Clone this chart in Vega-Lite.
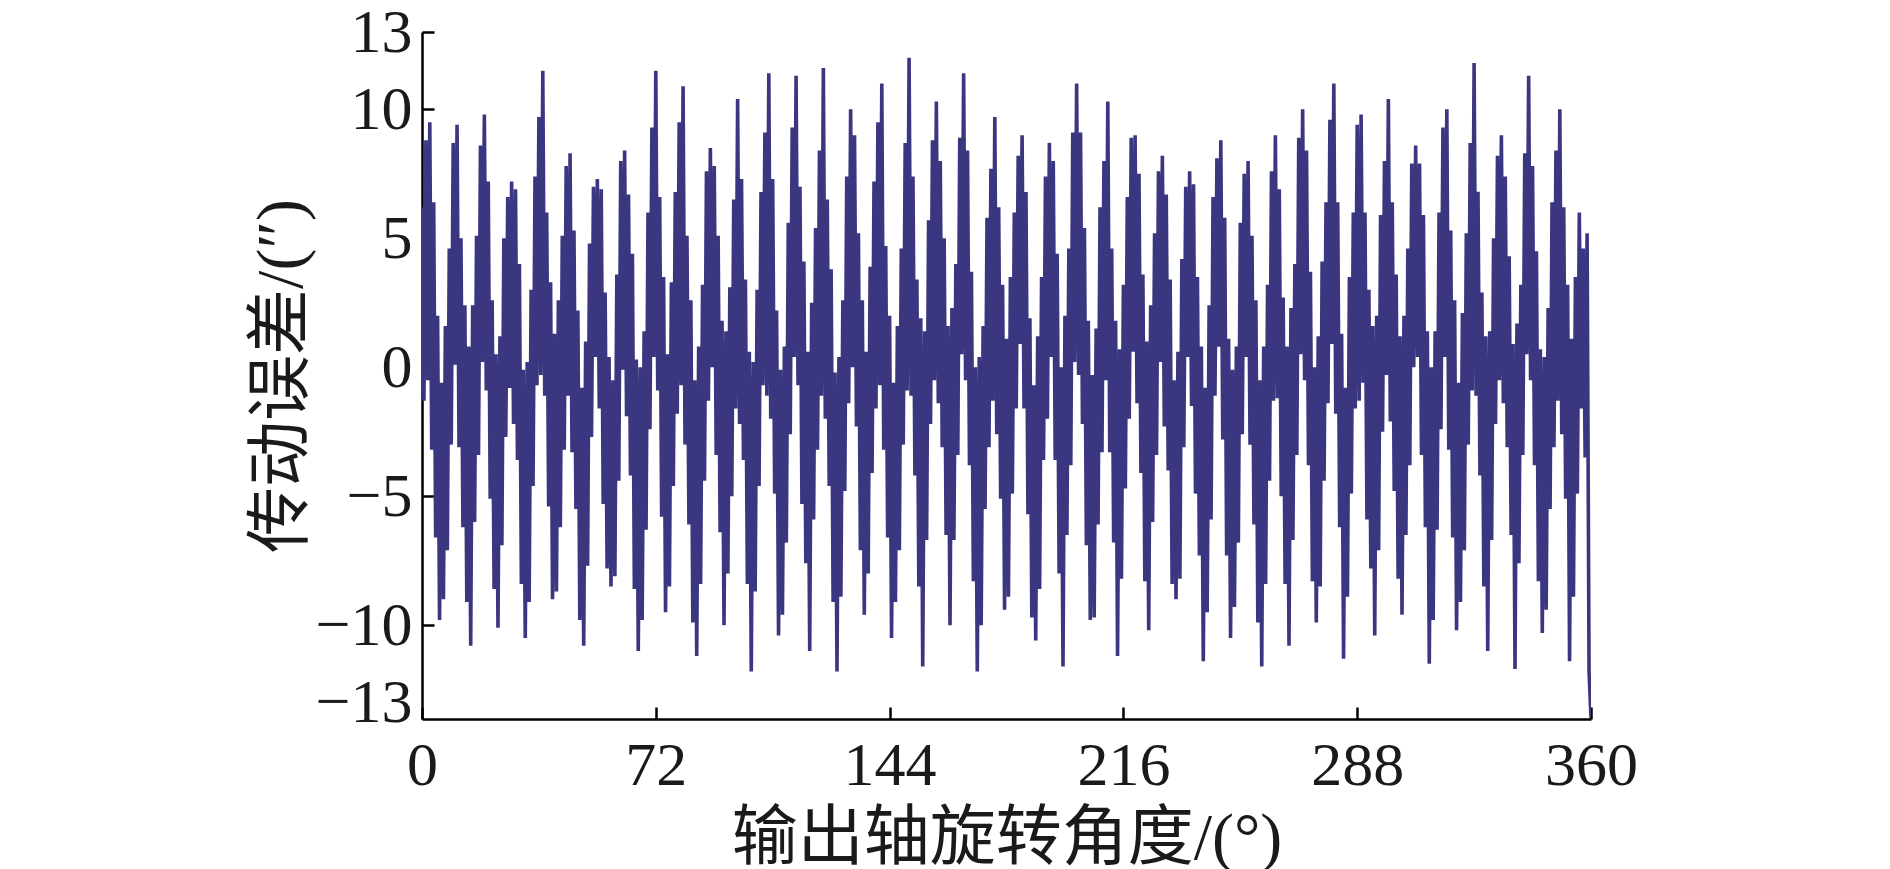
{
"$schema": "https://vega.github.io/schema/vega-lite/v6.json",
"autosize": "none",
"padding": {"left": 422, "top": 32, "right": 299, "bottom": 150},
"width": 1169,
"height": 687,
"background": "#ffffff",
"config": {
"view": {"stroke": null},
"axis": {"domainColor": "#000000", "domainWidth": 2.5, "tickColor": "#000000", "tickWidth": 2.5, "tickSize": -12, "grid": false, "labelFont": "Liberation Serif", "labelFontSize": 62, "labelColor": "#1a1a1a", "titleFont": "Liberation Serif, Noto Sans CJK SC", "titleFontSize": 66, "titleFontWeight": "normal", "titleColor": "#1a1a1a", "labelOverlap": false, "labelFlush": false}
},
"data": {"values": [
{"x":0,"y":6.2},{"x":0.6,"y":-1.3},{"x":1.2,"y":8.8},{"x":1.8,"y":-0.5},{"x":2.4,"y":9.5},{"x":3,"y":-3.2},{"x":3.6,"y":6.4},{"x":4.2,"y":-6.6},{"x":4.8,"y":2.0},{"x":5.4,"y":-9.8},
{"x":6,"y":-0.6},{"x":6.6,"y":-9.0},{"x":7.2,"y":1.6},{"x":7.8,"y":-7.1},{"x":8.4,"y":4.6},{"x":9,"y":-3.0},{"x":9.6,"y":8.7},{"x":10.2,"y":0.1},{"x":10.8,"y":9.4},{"x":11.4,"y":-3.1},
{"x":12,"y":5.0},{"x":12.6,"y":-6.2},{"x":13.2,"y":2.4},{"x":13.8,"y":-9.1},{"x":14.4,"y":0.8},{"x":15,"y":-10.8},{"x":15.6,"y":2.4},{"x":16.2,"y":-6.0},{"x":16.8,"y":5.1},{"x":17.4,"y":-3.4},
{"x":18,"y":8.6},{"x":18.6,"y":0.2},{"x":19.2,"y":9.8},{"x":19.8,"y":-0.9},{"x":20.4,"y":7.2},{"x":21,"y":-5.1},{"x":21.6,"y":2.6},{"x":22.2,"y":-8.6},{"x":22.8,"y":0.5},{"x":23.4,"y":-10.1},
{"x":24,"y":1.2},{"x":24.6,"y":-6.9},{"x":25.2,"y":5.0},{"x":25.8,"y":-2.7},{"x":26.4,"y":6.6},{"x":27,"y":-0.8},{"x":27.6,"y":7.2},{"x":28.2,"y":-2.2},{"x":28.8,"y":6.9},{"x":29.4,"y":-3.6},
{"x":30,"y":4.0},{"x":30.6,"y":-8.4},{"x":31.2,"y":-0.1},{"x":31.8,"y":-10.5},{"x":32.4,"y":0.2},{"x":33,"y":-9.1},{"x":33.6,"y":3.0},{"x":34.2,"y":-4.6},{"x":34.8,"y":7.4},{"x":35.4,"y":-0.7},
{"x":36,"y":9.7},{"x":36.6,"y":-0.3},{"x":37.2,"y":11.5},{"x":37.8,"y":-1.1},{"x":38.4,"y":6.0},{"x":39,"y":-5.4},{"x":39.6,"y":3.3},{"x":40.2,"y":-9.0},{"x":40.8,"y":1.3},{"x":41.4,"y":-8.7},
{"x":42,"y":2.6},{"x":42.6,"y":-6.2},{"x":43.2,"y":5.1},{"x":43.8,"y":-3.2},{"x":44.4,"y":7.8},{"x":45,"y":-1.1},{"x":45.6,"y":8.3},{"x":46.2,"y":-3.3},{"x":46.8,"y":5.3},{"x":47.4,"y":-5.5},
{"x":48,"y":2.2},{"x":48.6,"y":-9.8},{"x":49.2,"y":-0.8},{"x":49.8,"y":-10.8},{"x":50.4,"y":1.0},{"x":51,"y":-7.7},{"x":51.6,"y":4.8},{"x":52.2,"y":-2.7},{"x":52.8,"y":7.0},{"x":53.4,"y":0.4},
{"x":54,"y":7.3},{"x":54.6,"y":-1.6},{"x":55.2,"y":6.9},{"x":55.8,"y":-5.3},{"x":56.4,"y":2.9},{"x":57,"y":-7.8},{"x":57.6,"y":0.4},{"x":58.2,"y":-8.5},{"x":58.8,"y":-0.5},{"x":59.4,"y":-8.1},
{"x":60,"y":3.6},{"x":60.6,"y":-4.4},{"x":61.2,"y":8.0},{"x":61.8,"y":-0.1},{"x":62.4,"y":8.4},{"x":63,"y":-1.9},{"x":63.6,"y":6.7},{"x":64.2,"y":-4.2},{"x":64.8,"y":4.4},{"x":65.4,"y":-8.6},
{"x":66,"y":0.3},{"x":66.6,"y":-11.0},{"x":67.2,"y":0.0},{"x":67.8,"y":-9.8},{"x":68.4,"y":1.4},{"x":69,"y":-6.3},{"x":69.6,"y":6.0},{"x":70.2,"y":-2.4},{"x":70.8,"y":9.3},{"x":71.4,"y":0.4},
{"x":72,"y":11.5},{"x":72.6,"y":-0.9},{"x":73.2,"y":6.6},{"x":73.8,"y":-5.8},{"x":74.4,"y":3.5},{"x":75,"y":-9.5},{"x":75.6,"y":0.5},{"x":76.2,"y":-8.5},{"x":76.8,"y":3.3},{"x":77.4,"y":-4.6},
{"x":78,"y":6.8},{"x":78.6,"y":-1.8},{"x":79.2,"y":9.5},{"x":79.8,"y":-0.7},{"x":80.4,"y":10.9},{"x":81,"y":-3.0},{"x":81.6,"y":5.1},{"x":82.2,"y":-6.1},{"x":82.8,"y":2.6},{"x":83.4,"y":-9.9},
{"x":84,"y":-0.5},{"x":84.6,"y":-11.2},{"x":85.2,"y":0.8},{"x":85.8,"y":-8.4},{"x":86.4,"y":3.2},{"x":87,"y":-4.4},{"x":87.6,"y":7.6},{"x":88.2,"y":-1.3},{"x":88.8,"y":8.5},{"x":89.4,"y":0.0},
{"x":90,"y":7.8},{"x":90.6,"y":-3.4},{"x":91.2,"y":5.1},{"x":91.8,"y":-6.4},{"x":92.4,"y":1.8},{"x":93,"y":-10.0},{"x":93.6,"y":1.4},{"x":94.2,"y":-8.0},{"x":94.8,"y":3.1},{"x":95.4,"y":-5.0},
{"x":96,"y":6.5},{"x":96.6,"y":-1.6},{"x":97.2,"y":10.4},{"x":97.8,"y":-2.2},{"x":98.4,"y":7.3},{"x":99,"y":-3.6},{"x":99.6,"y":3.4},{"x":100.2,"y":-8.4},{"x":100.8,"y":0.6},{"x":101.4,"y":-11.8},
{"x":102,"y":0.2},{"x":102.6,"y":-8.7},{"x":103.2,"y":3.0},{"x":103.8,"y":-4.6},{"x":104.4,"y":6.8},{"x":105,"y":-0.7},{"x":105.6,"y":9.1},{"x":106.2,"y":-1.1},{"x":106.8,"y":11.4},{"x":107.4,"y":-2.0},
{"x":108,"y":7.3},{"x":108.6,"y":-4.9},{"x":109.2,"y":2.2},{"x":109.8,"y":-10.4},{"x":110.4,"y":-0.1},{"x":111,"y":-9.6},{"x":111.6,"y":0.8},{"x":112.2,"y":-6.8},{"x":112.8,"y":5.6},{"x":113.4,"y":-2.6},
{"x":114,"y":9.3},{"x":114.6,"y":0.4},{"x":115.2,"y":11.3},{"x":115.8,"y":-0.7},{"x":116.4,"y":7.0},{"x":117,"y":-5.3},{"x":117.6,"y":4.1},{"x":118.2,"y":-7.6},{"x":118.8,"y":0.6},{"x":119.4,"y":-11.0},
{"x":120,"y":2.5},{"x":120.6,"y":-5.9},{"x":121.2,"y":5.4},{"x":121.8,"y":-3.2},{"x":122.4,"y":8.4},{"x":123,"y":-1.1},{"x":123.6,"y":11.6},{"x":124.2,"y":-2.0},{"x":124.8,"y":6.5},{"x":125.4,"y":-4.6},
{"x":126,"y":3.8},{"x":126.6,"y":-9.1},{"x":127.2,"y":-0.2},{"x":127.8,"y":-11.8},{"x":128.4,"y":0.4},{"x":129,"y":-8.9},{"x":129.6,"y":2.6},{"x":130.2,"y":-4.8},{"x":130.8,"y":7.4},{"x":131.4,"y":-1.4},
{"x":132,"y":10.0},{"x":132.6,"y":0.0},{"x":133.2,"y":9.0},{"x":133.8,"y":-2.3},{"x":134.4,"y":5.2},{"x":135,"y":-7.1},{"x":135.6,"y":2.6},{"x":136.2,"y":-9.6},{"x":136.8,"y":0.6},{"x":137.4,"y":-8.0},
{"x":138,"y":3.9},{"x":138.6,"y":-4.1},{"x":139.2,"y":7.2},{"x":139.8,"y":-1.6},{"x":140.4,"y":9.5},{"x":141,"y":-0.7},{"x":141.6,"y":11.0},{"x":142.2,"y":-3.2},{"x":142.8,"y":4.7},{"x":143.4,"y":-6.6},
{"x":144,"y":2.0},{"x":144.6,"y":-10.5},{"x":145.2,"y":-0.6},{"x":145.8,"y":-9.1},{"x":146.4,"y":1.6},{"x":147,"y":-7.1},{"x":147.6,"y":4.6},{"x":148.2,"y":-3.0},{"x":148.8,"y":8.7},{"x":149.4,"y":-0.9},
{"x":150,"y":12.0},{"x":150.6,"y":-1.1},{"x":151.2,"y":7.4},{"x":151.8,"y":-4.2},{"x":152.4,"y":3.4},{"x":153,"y":-8.5},{"x":153.6,"y":1.9},{"x":154.2,"y":-11.6},{"x":154.8,"y":1.4},{"x":155.4,"y":-6.7},
{"x":156,"y":5.7},{"x":156.6,"y":-2.2},{"x":157.2,"y":8.8},{"x":157.8,"y":-0.5},{"x":158.4,"y":10.3},{"x":159,"y":-1.4},{"x":159.6,"y":8.0},{"x":160.2,"y":-3.1},{"x":160.8,"y":5.0},{"x":161.4,"y":-6.5},
{"x":162,"y":1.6},{"x":162.6,"y":-10.0},{"x":163.2,"y":2.3},{"x":163.8,"y":-6.7},{"x":164.4,"y":4.0},{"x":165,"y":-3.4},{"x":165.6,"y":8.9},{"x":166.2,"y":0.5},{"x":166.8,"y":11.4},{"x":167.4,"y":-0.5},
{"x":168,"y":8.4},{"x":168.6,"y":-3.8},{"x":169.2,"y":3.7},{"x":169.8,"y":-8.3},{"x":170.4,"y":0.0},{"x":171,"y":-11.8},{"x":171.6,"y":0.4},{"x":172.2,"y":-10.0},{"x":172.8,"y":1.6},{"x":173.4,"y":-5.5},
{"x":174,"y":5.8},{"x":174.6,"y":-3.1},{"x":175.2,"y":7.7},{"x":175.8,"y":-1.3},{"x":176.4,"y":9.7},{"x":177,"y":-2.6},{"x":177.6,"y":6.2},{"x":178.2,"y":-5.1},{"x":178.8,"y":3.2},{"x":179.4,"y":-9.4},
{"x":180,"y":1.1},{"x":180.6,"y":-8.9},{"x":181.2,"y":3.5},{"x":181.8,"y":-4.9},{"x":182.4,"y":6.0},{"x":183,"y":-1.6},{"x":183.6,"y":8.2},{"x":184.2,"y":0.9},{"x":184.8,"y":9.0},{"x":185.4,"y":-1.6},
{"x":186,"y":6.8},{"x":186.6,"y":-5.7},{"x":187.2,"y":1.9},{"x":187.8,"y":-9.7},{"x":188.4,"y":-0.7},{"x":189,"y":-10.6},{"x":189.6,"y":1.2},{"x":190.2,"y":-8.6},{"x":190.8,"y":3.5},{"x":191.4,"y":-3.6},
{"x":192,"y":7.4},{"x":192.6,"y":-2.0},{"x":193.2,"y":8.7},{"x":193.8,"y":0.4},{"x":194.4,"y":8.0},{"x":195,"y":-3.6},{"x":195.6,"y":4.4},{"x":196.2,"y":-8.0},{"x":196.8,"y":0.0},{"x":197.4,"y":-11.6},
{"x":198,"y":2.0},{"x":198.6,"y":-6.5},{"x":199.2,"y":4.6},{"x":199.8,"y":-3.8},{"x":200.4,"y":9.1},{"x":201,"y":0.2},{"x":201.6,"y":11.0},{"x":202.2,"y":-0.3},{"x":202.8,"y":9.1},{"x":203.4,"y":-2.2},
{"x":204,"y":5.4},{"x":204.6,"y":-6.9},{"x":205.2,"y":1.8},{"x":205.8,"y":-9.8},{"x":206.4,"y":-0.3},{"x":207,"y":-9.7},{"x":207.6,"y":1.5},{"x":208.2,"y":-6.1},{"x":208.8,"y":6.2},{"x":209.4,"y":-3.3},
{"x":210,"y":8.0},{"x":210.6,"y":-0.5},{"x":211.2,"y":10.3},{"x":211.8,"y":-3.3},{"x":212.4,"y":4.6},{"x":213,"y":-6.8},{"x":213.6,"y":1.8},{"x":214.2,"y":-11.2},{"x":214.8,"y":0.7},{"x":215.4,"y":-8.2},
{"x":216,"y":3.2},{"x":216.6,"y":-4.7},{"x":217.2,"y":6.6},{"x":217.8,"y":-2.0},{"x":218.4,"y":8.9},{"x":219,"y":0.6},{"x":219.6,"y":9.0},{"x":220.2,"y":-1.4},{"x":220.8,"y":7.5},{"x":221.4,"y":-4.1},
{"x":222,"y":3.6},{"x":222.6,"y":-8.3},{"x":223.2,"y":1.0},{"x":223.8,"y":-10.2},{"x":224.4,"y":2.4},{"x":225,"y":-6.0},{"x":225.6,"y":5.2},{"x":226.2,"y":-3.4},{"x":226.8,"y":7.6},{"x":227.4,"y":0.2},
{"x":228,"y":8.2},{"x":228.6,"y":-2.3},{"x":229.2,"y":6.7},{"x":229.8,"y":-4.0},{"x":230.4,"y":3.4},{"x":231,"y":-8.4},{"x":231.6,"y":-0.5},{"x":232.2,"y":-9.0},{"x":232.8,"y":0.6},{"x":233.4,"y":-8.2},
{"x":234,"y":4.2},{"x":234.6,"y":-3.1},{"x":235.2,"y":7.0},{"x":235.8,"y":0.4},{"x":236.4,"y":7.6},{"x":237,"y":-1.5},{"x":237.6,"y":7.1},{"x":238.2,"y":-4.9},{"x":238.8,"y":3.5},{"x":239.4,"y":-7.3},
{"x":240,"y":0.8},{"x":240.6,"y":-11.4},{"x":241.2,"y":-0.8},{"x":241.8,"y":-9.5},{"x":242.4,"y":2.4},{"x":243,"y":-5.9},{"x":243.6,"y":6.6},{"x":244.2,"y":-1.1},{"x":244.8,"y":8.1},{"x":245.4,"y":0.8},
{"x":246,"y":8.8},{"x":246.6,"y":-2.8},{"x":247.2,"y":5.8},{"x":247.8,"y":-7.3},{"x":248.4,"y":1.1},{"x":249,"y":-10.5},{"x":249.6,"y":-0.1},{"x":250.2,"y":-9.3},{"x":250.8,"y":0.8},{"x":251.4,"y":-6.8},
{"x":252,"y":5.6},{"x":252.6,"y":-2.6},{"x":253.2,"y":7.5},{"x":253.8,"y":0.4},{"x":254.4,"y":8.0},{"x":255,"y":-3.0},{"x":255.6,"y":5.1},{"x":256.2,"y":-6.1},{"x":256.8,"y":2.6},{"x":257.4,"y":-9.9},
{"x":258,"y":-0.5},{"x":258.6,"y":-11.6},{"x":259.2,"y":0.8},{"x":259.8,"y":-8.4},{"x":260.4,"y":3.2},{"x":261,"y":-4.4},{"x":261.6,"y":7.6},{"x":262.2,"y":-1.3},{"x":262.8,"y":9.0},{"x":263.4,"y":-1.2},
{"x":264,"y":6.9},{"x":264.6,"y":-5.0},{"x":265.2,"y":2.7},{"x":265.8,"y":-8.4},{"x":266.4,"y":0.8},{"x":267,"y":-10.8},{"x":267.6,"y":2.3},{"x":268.2,"y":-6.7},{"x":268.8,"y":4.0},{"x":269.4,"y":-3.4},
{"x":270,"y":8.9},{"x":270.6,"y":0.5},{"x":271.2,"y":10.0},{"x":271.8,"y":-0.5},{"x":272.4,"y":8.4},{"x":273,"y":-3.8},{"x":273.6,"y":3.7},{"x":274.2,"y":-8.3},{"x":274.8,"y":0.0},{"x":275.4,"y":-9.9},
{"x":276,"y":1.2},{"x":276.6,"y":-8.5},{"x":277.2,"y":4.1},{"x":277.8,"y":-4.4},{"x":278.4,"y":6.4},{"x":279,"y":-1.4},{"x":279.6,"y":9.6},{"x":280.2,"y":0.9},{"x":280.8,"y":11.0},{"x":281.4,"y":-1.8},
{"x":282,"y":6.4},{"x":282.6,"y":-6.2},{"x":283.2,"y":1.3},{"x":283.8,"y":-11.3},{"x":284.4,"y":-0.8},{"x":285,"y":-8.9},{"x":285.6,"y":3.5},{"x":286.2,"y":-4.9},{"x":286.8,"y":6.0},{"x":287.4,"y":-1.6},
{"x":288,"y":9.4},{"x":288.6,"y":-1.3},{"x":289.2,"y":9.8},{"x":289.8,"y":-0.6},{"x":290.4,"y":6.0},{"x":291,"y":-5.9},{"x":291.6,"y":3.0},{"x":292.2,"y":-7.8},{"x":292.8,"y":1.6},{"x":293.4,"y":-10.4},
{"x":294,"y":2.0},{"x":294.6,"y":-7.1},{"x":295.2,"y":5.9},{"x":295.8,"y":-2.5},{"x":296.4,"y":8.0},{"x":297,"y":-0.3},{"x":297.6,"y":10.4},{"x":298.2,"y":-2.1},{"x":298.8,"y":6.4},{"x":299.4,"y":-4.8},
{"x":300,"y":3.6},{"x":300.6,"y":-8.2},{"x":301.2,"y":1.2},{"x":301.8,"y":-9.6},{"x":302.4,"y":2.0},{"x":303,"y":-6.5},{"x":303.6,"y":4.6},{"x":304.2,"y":-3.8},{"x":304.8,"y":7.9},{"x":305.4,"y":0.0},
{"x":306,"y":8.6},{"x":306.6,"y":0.4},{"x":307.2,"y":7.9},{"x":307.8,"y":-3.4},{"x":308.4,"y":5.9},{"x":309,"y":-6.2},{"x":309.6,"y":1.4},{"x":310.2,"y":-11.5},{"x":310.8,"y":0.0},{"x":311.4,"y":-9.8},
{"x":312,"y":1.4},{"x":312.6,"y":-6.3},{"x":313.2,"y":6.0},{"x":313.8,"y":-2.4},{"x":314.4,"y":9.3},{"x":315,"y":0.4},{"x":315.6,"y":10.0},{"x":316.2,"y":-3.2},{"x":316.8,"y":5.3},{"x":317.4,"y":-6.6},
{"x":318,"y":2.6},{"x":318.6,"y":-10.2},{"x":319.2,"y":-0.6},{"x":319.8,"y":-9.1},{"x":320.4,"y":2.1},{"x":321,"y":-7.1},{"x":321.6,"y":5.2},{"x":322.2,"y":-3.0},{"x":322.8,"y":8.7},{"x":323.4,"y":-0.9},
{"x":324,"y":11.8},{"x":324.6,"y":-1.1},{"x":325.2,"y":6.8},{"x":325.8,"y":-4.2},{"x":326.4,"y":2.9},{"x":327,"y":-8.5},{"x":327.6,"y":1.2},{"x":328.2,"y":-11.0},{"x":328.8,"y":1.4},{"x":329.4,"y":-6.7},
{"x":330,"y":5.0},{"x":330.6,"y":-2.2},{"x":331.2,"y":8.2},{"x":331.8,"y":-0.5},{"x":332.4,"y":9.0},{"x":333,"y":-1.4},{"x":333.6,"y":7.4},{"x":334.2,"y":-3.1},{"x":334.8,"y":4.3},{"x":335.4,"y":-6.5},
{"x":336,"y":0.9},{"x":336.6,"y":-11.7},{"x":337.2,"y":1.7},{"x":337.8,"y":-7.6},{"x":338.4,"y":3.2},{"x":339,"y":-3.4},{"x":339.6,"y":8.3},{"x":340.2,"y":0.5},{"x":340.8,"y":11.3},{"x":341.4,"y":-0.5},
{"x":342,"y":7.8},{"x":342.6,"y":-3.8},{"x":343.2,"y":4.5},{"x":343.8,"y":-8.3},{"x":344.4,"y":0.7},{"x":345,"y":-10.3},{"x":345.6,"y":0.4},{"x":346.2,"y":-9.4},{"x":346.8,"y":2.3},{"x":347.4,"y":-5.5},
{"x":348,"y":6.4},{"x":348.6,"y":-3.1},{"x":349.2,"y":8.4},{"x":349.8,"y":-1.3},{"x":350.4,"y":10.0},{"x":351,"y":-2.6},{"x":351.6,"y":6.2},{"x":352.2,"y":-5.1},{"x":352.8,"y":3.2},{"x":353.4,"y":-11.4},
{"x":354,"y":1.1},{"x":354.6,"y":-8.9},{"x":355.2,"y":3.5},{"x":355.8,"y":-4.9},{"x":356.4,"y":6.0},{"x":357,"y":-1.6},{"x":357.6,"y":4.6},{"x":358.2,"y":-3.5},{"x":358.8,"y":5.2},{"x":359.4,"y":-11.8},
{"x":360,"y":-13.6}
]},
"mark": {"type": "line", "color": "#3b3680", "strokeWidth": 3.6, "strokeJoin": "bevel", "clip": true},
"encoding": {
"x": {"field": "x", "type": "quantitative", "scale": {"domain": [0, 360], "nice": false, "zero": false}, "axis": {"values": [0, 72, 144, 216, 288, 360], "title": "输出轴旋转角度/(°)", "labelPadding": 28, "titlePadding": 10}},
"y": {"field": "y", "type": "quantitative", "scale": {"domain": [-13.64, 13], "nice": false, "zero": false}, "axis": {"values": [13, 10, 5, 0, -5, -10, -13], "title": "传动误差/(″)", "labelPadding": 22, "titlePadding": 0, "tickOpacity": {"condition": {"test": "datum.value === -13", "value": 0}, "value": 1}}}
}
}
